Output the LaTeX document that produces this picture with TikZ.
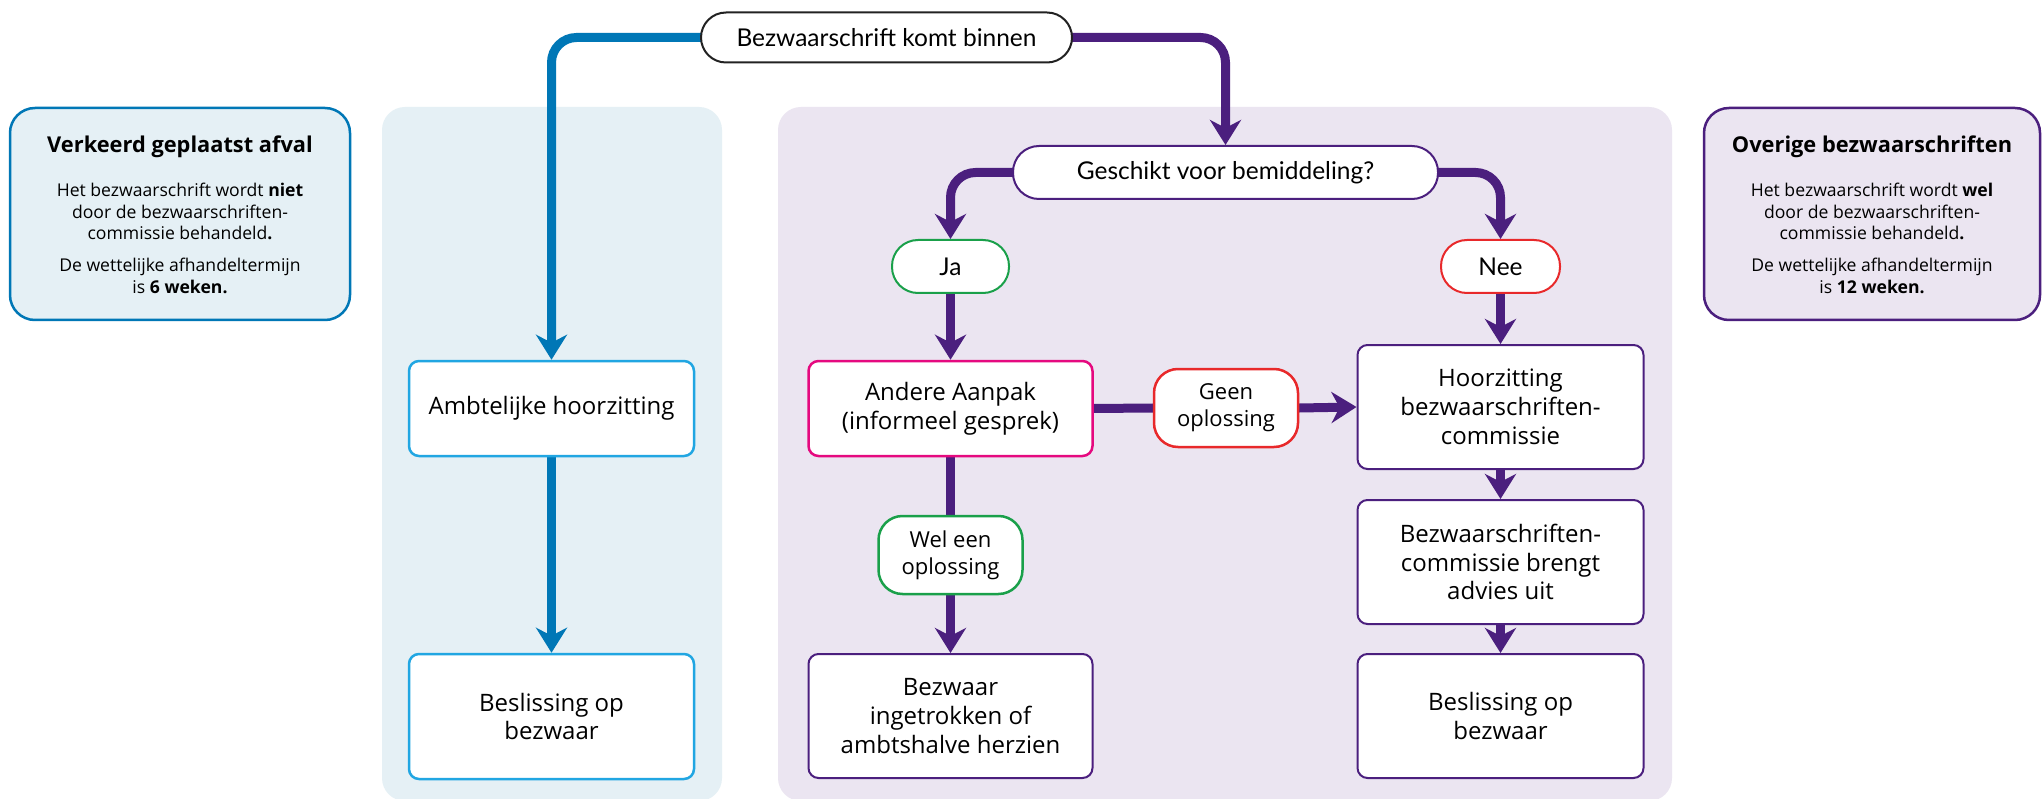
\documentclass[tikz,border=0pt]{standalone}
\usepackage{fontspec}
\setmainfont{Lato}
\newfontfamily\boxfam{Open Sans}
\usetikzlibrary{arrows.meta}
\definecolor{blueline}{HTML}{0077B6}
\definecolor{bluebox}{HTML}{21A6E2}
\definecolor{bluepanel}{HTML}{E5F0F5}
\definecolor{purpline}{HTML}{4B1F7E}
\definecolor{purppanel}{HTML}{EBE5F1}
\definecolor{magentab}{HTML}{E5097F}
\definecolor{redb}{HTML}{E8292B}
\definecolor{greenb}{HTML}{1AA04A}
\definecolor{darkb}{HTML}{222222}
\newcommand\fmain{\boxfam\fontsize{24}{28.8}\selectfont}
\newcommand\fpill{\fontsize{24.5}{29}\selectfont}
\newcommand\flab{\boxfam\fontsize{22}{27}\selectfont}
\newcommand\ftitle{\boxfam\fontsize{21.8}{26}\selectfont\bfseries}
\newcommand\fbody{\boxfam\fontsize{17.6}{21.5}\selectfont}
\pgfdeclarelayer{panels}
\pgfdeclarelayer{lines}
\pgfsetlayers{panels,lines,main}
\begin{document}
\begin{tikzpicture}[x=1pt,y=-1pt,
  panelbg/.style={rounded corners=23pt},
  infobox/.style={line width=2.5pt, rounded corners=25pt},
  flowbox/.style={draw, fill=white, rounded corners=10pt, align=center, font=\fmain, inner sep=0pt, minimum width=285pt},
  bluebx/.style={flowbox, draw=bluebox, line width=2.5pt},
  purpbx/.style={flowbox, draw=purpline, line width=2pt},
  pillbox/.style={draw, fill=white, rounded corners=26pt, align=center, font=\fpill, inner sep=0pt, minimum height=53pt, line width=2pt},
  labbox/.style={draw, fill=white, rounded corners=24pt, align=center, font=\flab, inner sep=0pt, minimum width=144pt, minimum height=78pt, line width=2.5pt},
  arrowtip/.style={-{Stealth[length=25pt,width=31pt,inset=8pt]}},
  blueflow/.style={line width=9pt, draw=blueline},
  purpflow/.style={line width=9pt, draw=purpline},
  curvy/.style={rounded corners=25pt},
  reachin/.style={shorten <=-8pt},
  infotitle/.style={font=\ftitle, anchor=base, inner sep=0pt},
  infobody/.style={font=\fbody, align=center, anchor=north, inner sep=0pt}
]
\useasboundingbox (0,0) rectangle (2044,799);
\begin{pgfonlayer}{panels}
\fill[white] (0,0) rectangle (2044,799);
\fill[bluepanel, panelbg] (382,107) rectangle (722,801);
\fill[purppanel, panelbg] (778,107) rectangle (1672,801);
\draw[infobox, draw=blueline, fill=bluepanel] (10,108) rectangle (350,320);
\draw[infobox, draw=purpline, fill=purppanel] (1704,108) rectangle (2040,320);
\end{pgfonlayer}

% info texts
\node[infotitle] (ltitle) at (180,153) {Verkeerd geplaatst afval};
\node[infobody] (lbody) at (180,183) {Het bezwaarschrift wordt \textbf{niet}\\door de bezwaarschriften-\\commissie behandeld\textbf{.}\\[10.5pt]De wettelijke afhandeltermijn\\is \textbf{6 weken.}};
\node[infotitle] (rtitle) at (1872,153) {Overige bezwaarschriften};
\node[infobody] (rbody) at (1872,183) {Het bezwaarschrift wordt \textbf{wel}\\door de bezwaarschriften-\\commissie behandeld\textbf{.}\\[10.5pt]De wettelijke afhandeltermijn\\is \textbf{12 weken.}};

% flow nodes
\node[pillbox, draw=darkb, minimum width=371pt, minimum height=50pt, rounded corners=25pt] (top) at (886.5,37.5) {Bezwaarschrift komt binnen};
\node[pillbox, draw=purpline, minimum width=425pt] (gesch) at (1225.5,172.5) {Geschikt voor bemiddeling?};
\node[pillbox, draw=greenb, minimum width=117pt] (ja) at (950.5,266.5) {Ja};
\node[pillbox, draw=redb, minimum width=119pt] (nee) at (1500.5,266.5) {Nee};

\node[bluebx, minimum height=95pt] (amb) at (551.5,408.5) {Ambtelijke hoorzitting};
\node[bluebx, minimum height=125pt] (besL) at (551.5,716.5) {Beslissing op\\bezwaar};

\node[flowbox, draw=magentab, line width=2.5pt, minimum width=284pt, minimum height=95pt] (andere) at (950.5,408.5) {Andere Aanpak\\(informeel gesprek)};
\node[labbox, draw=redb] (geen) at (1226,408) {Geen\\oplossing};
\node[labbox, draw=greenb] (wel) at (950.5,555) {Wel een\\oplossing};
\node[purpbx, minimum width=284pt, minimum height=124pt] (bezw) at (950.5,716) {Bezwaar\\ingetrokken of\\ambtshalve herzien};

\node[purpbx, minimum width=286pt, minimum height=124pt] (hoor) at (1500.5,407) {Hoorzitting\\bezwaarschriften-\\commissie};
\node[purpbx, minimum width=286pt, minimum height=124pt] (comm) at (1500.5,562) {Bezwaarschriften-\\commissie brengt\\advies uit};
\node[purpbx, minimum width=286pt, minimum height=124pt] (besR) at (1500.5,716) {Beslissing op\\bezwaar};

% connectors
\begin{pgfonlayer}{lines}
\draw[blueflow, arrowtip, curvy, reachin] (top.west) -| (amb.north);
\draw[blueflow, arrowtip, reachin] (amb.south) -- (besL.north);
\draw[purpflow, arrowtip, curvy, reachin] (top.east) -| (gesch.north);
\draw[purpflow, arrowtip, curvy, reachin] (gesch.west) -| (ja.north);
\draw[purpflow, arrowtip, curvy, reachin] (gesch.east) -| (nee.north);
\draw[purpflow, arrowtip, reachin] (ja.south) -- (andere.north);
\draw[purpflow, arrowtip, reachin] (nee.south) -- (hoor.north);
\draw[purpflow, shorten <=-8pt, shorten >=-8pt] (andere.south) -- (wel.north);
\draw[purpflow, arrowtip, reachin] (wel.south) -- (bezw.north);
\draw[purpflow, shorten <=-8pt, shorten >=-8pt] (andere.east) -- (geen.west);
\draw[purpflow, arrowtip, reachin] (geen.east) -- (hoor.west);
\draw[purpflow, arrowtip, reachin] (hoor.south) -- (comm.north);
\draw[purpflow, arrowtip, reachin] (comm.south) -- (besR.north);
\end{pgfonlayer}
\end{tikzpicture}
\end{document}
